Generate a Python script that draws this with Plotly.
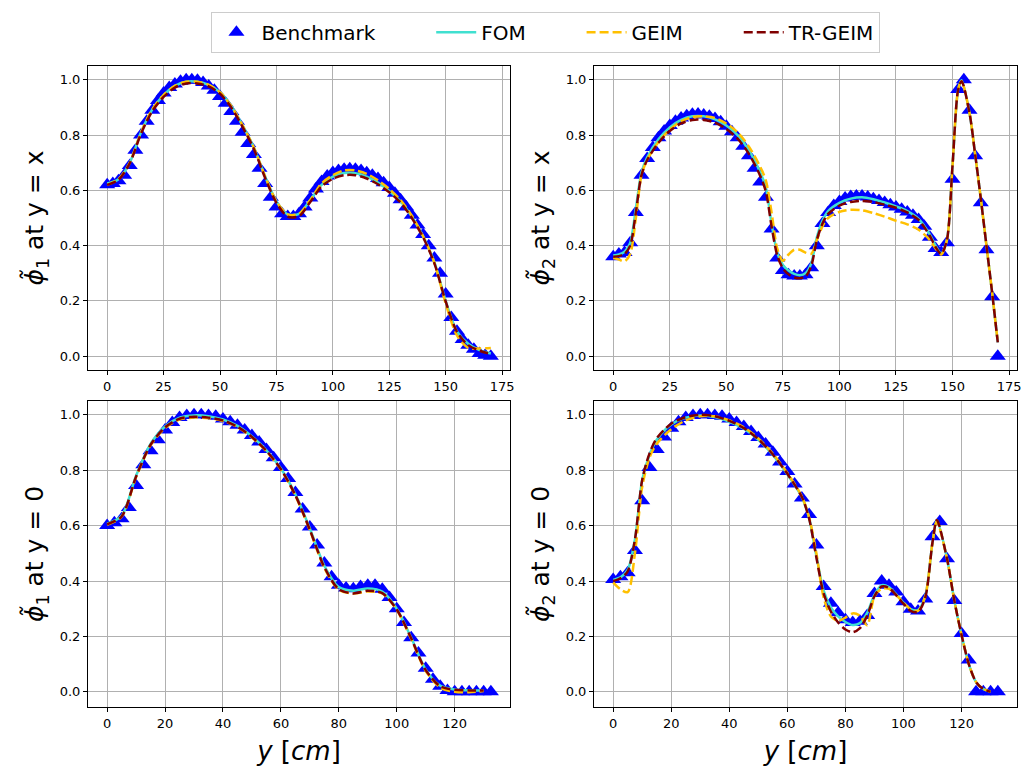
import plotly.graph_objects as go
from plotly.subplots import make_subplots

# ---------------- data ----------------
# Benchmark x positions
xb_top = [0, 2.5, 5, 7.5, 10, 12.5, 15, 17.5, 20, 22.5, 25, 27.5, 30, 32.5, 35, 37.5, 40, 42.5, 45, 47.5,
          50, 52.5, 55, 57.5, 60, 62.5, 65, 67.5, 70, 72.5, 75, 77.5, 80, 82.5, 85, 87.5, 90, 92.5, 95, 97.5,
          100, 102.5, 105, 107.5, 110, 112.5, 115, 117.5, 120, 122.5, 125, 127.5, 130, 132.5, 135, 137.5,
          140, 142.5, 145, 147.5, 150, 152.5, 155, 157.5, 160, 162.5, 165, 167.5, 170]
xb_bot = [0, 2.5, 5, 7.5, 10, 12.5, 15, 17.5, 20, 22.5, 25, 27.5, 30, 32.5, 35, 37.5, 40, 42.5, 45, 47.5,
          50, 52.5, 55, 57.5, 60, 62.5, 65, 67.5, 70, 72.5, 75, 77.5, 80, 82.5, 85, 87.5, 90, 92.5, 95, 97.5,
          100, 102.5, 105, 107.5, 110, 112.5, 115, 117.5, 120, 122.5, 125, 127.5, 130, 132.5]

bench_1 = [0.62, 0.625, 0.635, 0.655, 0.69, 0.745, 0.80, 0.85, 0.89, 0.925,
           0.952, 0.972, 0.985, 0.995, 1.0, 1.0, 0.998, 0.99, 0.978, 0.962,
           0.94, 0.915, 0.885, 0.85, 0.81, 0.77, 0.73, 0.68, 0.625, 0.575,
           0.54, 0.515, 0.505, 0.505, 0.515, 0.54, 0.572, 0.605, 0.632, 0.652,
           0.665, 0.672, 0.676, 0.678, 0.676, 0.672, 0.664, 0.655, 0.643, 0.628,
           0.61, 0.59, 0.566, 0.54, 0.51, 0.475, 0.44, 0.40, 0.355, 0.30,
           0.225, 0.14, 0.09, 0.06, 0.04, 0.025, 0.01, 0.003, 0.0]
bench_2 = [0.36, 0.37, 0.375, 0.41, 0.52, 0.655, 0.715, 0.755, 0.79, 0.815,
           0.835, 0.85, 0.862, 0.87, 0.875, 0.876, 0.873, 0.868, 0.86, 0.848,
           0.832, 0.812, 0.79, 0.76, 0.725, 0.68, 0.63, 0.575, 0.46, 0.355,
           0.31, 0.295, 0.29, 0.29, 0.295, 0.32, 0.40, 0.48, 0.52, 0.545,
           0.56, 0.572, 0.578, 0.58, 0.58, 0.576, 0.57, 0.563, 0.556, 0.548,
           0.54, 0.532, 0.522, 0.51, 0.495, 0.47, 0.43, 0.39, 0.375, 0.41,
           0.64, 0.965, 1.0, 0.89, 0.725, 0.555, 0.385, 0.215, 0.0]
bench_3 = [0.60, 0.61, 0.625, 0.665, 0.745, 0.82, 0.87, 0.91, 0.945, 0.972,
           0.99, 0.998, 1.0, 1.0, 0.998, 0.995, 0.985, 0.975, 0.962, 0.945,
           0.925, 0.902, 0.875, 0.845, 0.81, 0.77, 0.72, 0.66, 0.595, 0.53,
           0.465, 0.415, 0.385, 0.375, 0.372, 0.38, 0.385, 0.385, 0.37, 0.34,
           0.30, 0.25, 0.195, 0.14, 0.085, 0.045, 0.02, 0.005, 0.0, 0.0,
           0.0, 0.0, 0.0, 0.0]
bench_4 = [0.405, 0.415, 0.43, 0.51, 0.69, 0.81, 0.875, 0.92, 0.952, 0.975,
           0.99, 0.998, 1.0, 1.0, 0.998, 0.995, 0.985, 0.972, 0.958, 0.94,
           0.918, 0.895, 0.865, 0.83, 0.795, 0.75, 0.70, 0.64, 0.53, 0.38,
           0.32, 0.285, 0.26, 0.25, 0.255, 0.275, 0.355, 0.40, 0.385, 0.36,
           0.325, 0.298, 0.292, 0.335, 0.56, 0.615, 0.48, 0.33, 0.21, 0.115,
           0.0, 0.0, 0.0, 0.0]

# Reconstruction curves
xl_1 = [0, 5, 10, 15, 20, 25, 30, 35, 40, 45, 50, 55, 60, 65, 70, 75, 80, 85, 90, 95, 100,
        105, 110, 115, 120, 125, 130, 135, 140, 145, 150, 155, 160, 165, 170]
fom_1 = [0.625, 0.640, 0.700, 0.810, 0.893, 0.945, 0.978, 0.993, 0.993, 0.982, 0.955, 0.905,
         0.835, 0.755, 0.650, 0.560, 0.513, 0.515, 0.565, 0.620, 0.650, 0.663, 0.662, 0.650,
         0.628, 0.598, 0.560, 0.505, 0.434, 0.340, 0.200, 0.090, 0.045, 0.022, 0.010]
geim_1 = [0.620, 0.640, 0.700, 0.810, 0.893, 0.945, 0.978, 0.993, 0.993, 0.982, 0.955, 0.905,
          0.835, 0.755, 0.650, 0.560, 0.513, 0.515, 0.565, 0.625, 0.655, 0.672, 0.672, 0.660,
          0.636, 0.605, 0.565, 0.508, 0.434, 0.338, 0.190, 0.075, 0.030, 0.028, 0.030]
trgeim_1 = [0.620, 0.638, 0.698, 0.805, 0.887, 0.938, 0.972, 0.987, 0.987, 0.976, 0.950, 0.900,
            0.830, 0.750, 0.645, 0.555, 0.505, 0.507, 0.558, 0.614, 0.642, 0.655, 0.655, 0.643,
            0.622, 0.593, 0.556, 0.500, 0.430, 0.336, 0.198, 0.088, 0.040, 0.020, 0.008]

xl_2 = [0, 2.5, 5, 7.5, 10, 12.5, 15, 20, 25, 30, 35, 40, 45, 50, 55, 60, 65, 67.5, 70, 72.5,
        75, 77.5, 80, 82.5, 85, 87.5, 90, 92.5, 95, 100, 105, 110, 115, 120, 125, 130, 135, 140,
        142.5, 145, 147.5, 150, 152.5, 154, 157.5, 160, 162.5, 165, 167.5, 170]
fom_2 = [0.364, 0.368, 0.378, 0.41, 0.535, 0.665, 0.72, 0.785, 0.828, 0.855, 0.868, 0.868,
         0.857, 0.835, 0.80, 0.745, 0.665, 0.61, 0.48, 0.375, 0.33, 0.31, 0.298, 0.293, 0.30,
         0.335, 0.43, 0.49, 0.525, 0.555, 0.570, 0.575, 0.568, 0.556, 0.542, 0.525, 0.497, 0.44,
         0.40, 0.372, 0.42, 0.69, 0.965, 0.998, 0.88, 0.73, 0.57, 0.40, 0.23, 0.05]
geim_2 = [0.355, 0.35, 0.343, 0.37, 0.50, 0.655, 0.71, 0.775, 0.82, 0.85, 0.865, 0.868,
          0.862, 0.842, 0.81, 0.758, 0.685, 0.635, 0.52, 0.39, 0.345, 0.368, 0.385, 0.385, 0.375,
          0.37, 0.42, 0.47, 0.50, 0.522, 0.530, 0.528, 0.518, 0.505, 0.49, 0.477, 0.458, 0.42,
          0.39, 0.368, 0.42, 0.69, 0.965, 0.995, 0.88, 0.73, 0.57, 0.40, 0.23, 0.05]
trgeim_2 = [0.36, 0.362, 0.37, 0.40, 0.52, 0.655, 0.71, 0.772, 0.815, 0.842, 0.855, 0.855,
            0.845, 0.822, 0.787, 0.732, 0.652, 0.595, 0.47, 0.365, 0.318, 0.296, 0.285, 0.282,
            0.288, 0.325, 0.42, 0.48, 0.515, 0.545, 0.558, 0.562, 0.558, 0.548, 0.537, 0.52,
            0.493, 0.435, 0.395, 0.37, 0.42, 0.69, 0.965, 0.995, 0.88, 0.73, 0.57, 0.40, 0.23, 0.05]

xl_3 = [0, 5, 10, 15, 20, 25, 30, 35, 40, 45, 50, 55, 60, 65, 70, 75, 80, 85, 90, 95, 100,
        105, 110, 115, 120, 125, 130]
fom_3 = [0.607, 0.635, 0.78, 0.895, 0.958, 0.99, 0.998, 0.995, 0.983, 0.96, 0.922, 0.872,
         0.806, 0.713, 0.59, 0.455, 0.378, 0.365, 0.373, 0.362, 0.30, 0.195, 0.08, 0.022,
         0.008, 0.005, 0.005]
geim_3 = [0.603, 0.632, 0.775, 0.89, 0.952, 0.983, 0.99, 0.988, 0.978, 0.956, 0.918, 0.868,
          0.802, 0.708, 0.583, 0.447, 0.368, 0.355, 0.362, 0.355, 0.296, 0.19, 0.075, 0.015,
          0.0, -0.002, 0.003]
trgeim_3 = [0.605, 0.633, 0.777, 0.892, 0.955, 0.986, 0.993, 0.99, 0.98, 0.957, 0.92, 0.87,
            0.804, 0.71, 0.585, 0.45, 0.37, 0.355, 0.365, 0.356, 0.297, 0.193, 0.078, 0.02,
            0.007, 0.005, 0.005]

xl_4 = [0, 2.5, 5, 7.5, 10, 12.5, 15, 20, 25, 30, 35, 40, 45, 50, 55, 60, 65, 67.5, 70, 72.5,
        75, 77.5, 80, 82.5, 85, 87.5, 90, 92.5, 95, 100, 102.5, 105, 107.5, 110, 111.5, 115,
        117.5, 120, 122.5, 125, 127.5, 130]
fom_4 = [0.404, 0.413, 0.44, 0.55, 0.765, 0.855, 0.91, 0.965, 0.99, 0.998, 0.992, 0.975,
         0.95, 0.91, 0.855, 0.785, 0.703, 0.627, 0.49, 0.365, 0.305, 0.272, 0.252, 0.241,
         0.248, 0.285, 0.35, 0.385, 0.378, 0.322, 0.298, 0.295, 0.345, 0.54, 0.62, 0.48,
         0.33, 0.205, 0.10, 0.035, 0.01, 0.0]
geim_4 = [0.395, 0.37, 0.36, 0.50, 0.74, 0.845, 0.895, 0.948, 0.98, 0.995, 0.995, 0.98,
          0.955, 0.915, 0.86, 0.79, 0.705, 0.63, 0.50, 0.34, 0.272, 0.256, 0.268, 0.283,
          0.275, 0.24, 0.345, 0.372, 0.372, 0.322, 0.298, 0.292, 0.345, 0.54, 0.615, 0.48,
          0.33, 0.205, 0.10, 0.035, 0.01, 0.0]
trgeim_4 = [0.40, 0.41, 0.435, 0.55, 0.765, 0.86, 0.915, 0.968, 0.992, 1.0, 0.995, 0.978,
            0.952, 0.912, 0.857, 0.787, 0.703, 0.625, 0.485, 0.355, 0.29, 0.25, 0.225, 0.215,
            0.23, 0.275, 0.345, 0.38, 0.375, 0.318, 0.292, 0.288, 0.34, 0.54, 0.62, 0.48,
            0.33, 0.205, 0.10, 0.035, 0.01, 0.0]

series_names = ["Benchmark", "FOM", "GEIM", "TR-GEIM"]
ylabels = ["<i>ϕ̃</i><sub>1</sub> at y = x", "<i>ϕ̃</i><sub>2</sub> at y = x",
           "<i>ϕ̃</i><sub>1</sub> at y = 0", "<i>ϕ̃</i><sub>2</sub> at y = 0"]
xtitle = "<i>y</i> [<i>cm</i>]"
xticks_top = [0, 25, 50, 75, 100, 125, 150, 175]
xticks_bot = [0, 20, 40, 60, 80, 100, 120]
yticks = [0.0, 0.2, 0.4, 0.6, 0.8, 1.0]

# ---------------- figure ----------------
FONT = "DejaVu Sans"
C_BENCH = "#0000FF"
C_FOM = "#40E0D0"
C_GEIM = "#FFC000"
C_TR = "#800000"
PAD = "\u00a0" * 8  # legend column spacing

fig = make_subplots(rows=2, cols=2)

panels = [
    (1, 1, xb_top, bench_1, xl_1, fom_1, geim_1, trgeim_1),
    (1, 2, xb_top, bench_2, xl_2, fom_2, geim_2, trgeim_2),
    (2, 1, xb_bot, bench_3, xl_3, fom_3, geim_3, trgeim_3),
    (2, 2, xb_bot, bench_4, xl_4, fom_4, geim_4, trgeim_4),
]
for k, (r, c, xb, yb, xl, yf, yg, yt) in enumerate(panels):
    show = (k == 0)
    fig.add_trace(go.Scatter(x=xb, y=yb, mode="markers", name=series_names[0] + PAD,
                             legendgroup="b", showlegend=show,
                             marker=dict(symbol="triangle-up", size=14, color=C_BENCH,
                                         line=dict(width=0))), row=r, col=c)
    fig.add_trace(go.Scatter(x=xl, y=yf, mode="lines", name=series_names[1] + PAD,
                             legendgroup="f", showlegend=show,
                             line=dict(color=C_FOM, width=2.5, shape="spline", smoothing=0.8)),
                  row=r, col=c)
    fig.add_trace(go.Scatter(x=xl, y=yg, mode="lines", name=series_names[2] + PAD,
                             legendgroup="g", showlegend=show,
                             line=dict(color=C_GEIM, width=2.5, dash="9px,4px",
                                       shape="spline", smoothing=0.8)), row=r, col=c)
    fig.add_trace(go.Scatter(x=xl, y=yt, mode="lines", name=series_names[3],
                             legendgroup="t", showlegend=show,
                             line=dict(color=C_TR, width=2.5, dash="9px,4px",
                                       shape="spline", smoothing=0.8)), row=r, col=c)

W, H = 1032, 777
xdom = [[88 / W, 510 / W], [594 / W, 1017 / W]]
ydom = [[(H - 370) / H, (H - 66) / H], [(H - 707) / H, (H - 401) / H]]

axis_common = dict(showline=True, mirror=True, linecolor="black", linewidth=1,
                   ticks="outside", ticklen=4, tickcolor="black", tickwidth=1,
                   showgrid=True, gridcolor="#b0b0b0", gridwidth=0.8, zeroline=False,
                   tickfont=dict(family=FONT, size=13, color="black"), automargin=False)

for k in range(4):
    r, c = divmod(k, 2)
    idx = "" if k == 0 else str(k + 1)
    top = (r == 0)
    xa = dict(axis_common, domain=xdom[c],
              range=[-8.5, 178.5] if top else [-6.6, 139.1],
              tickmode="array", tickvals=xticks_top if top else xticks_bot)
    if not top:
        xa["title"] = dict(text=xtitle, font=dict(family=FONT, size=26, color="black"), standoff=12)
    ya = dict(axis_common, domain=ydom[r],
              range=[-0.05, 1.05] if top else [-0.055, 1.05],
              tickmode="array", tickvals=yticks, tickformat=".1f",
              title=dict(text=ylabels[k], font=dict(family=FONT, size=25, color="black"), standoff=8))
    fig.layout["xaxis" + idx].update(xa)
    fig.layout["yaxis" + idx].update(ya)

fig.update_layout(
    width=W, height=H,
    margin=dict(l=0, r=0, t=0, b=0),
    paper_bgcolor="white", plot_bgcolor="white",
    font=dict(family=FONT, color="black"),
    legend=dict(orientation="h", x=0.529, xanchor="center", y=0.985, yanchor="top",
                bordercolor="#cccccc", borderwidth=1, bgcolor="white",
                font=dict(family=FONT, size=20, color="black"), itemwidth=40,
                tracegroupgap=0),
)

fig.write_html("out.html", config={"displayModeBar": False},
               post_script="document.body.style.margin='0px';")
